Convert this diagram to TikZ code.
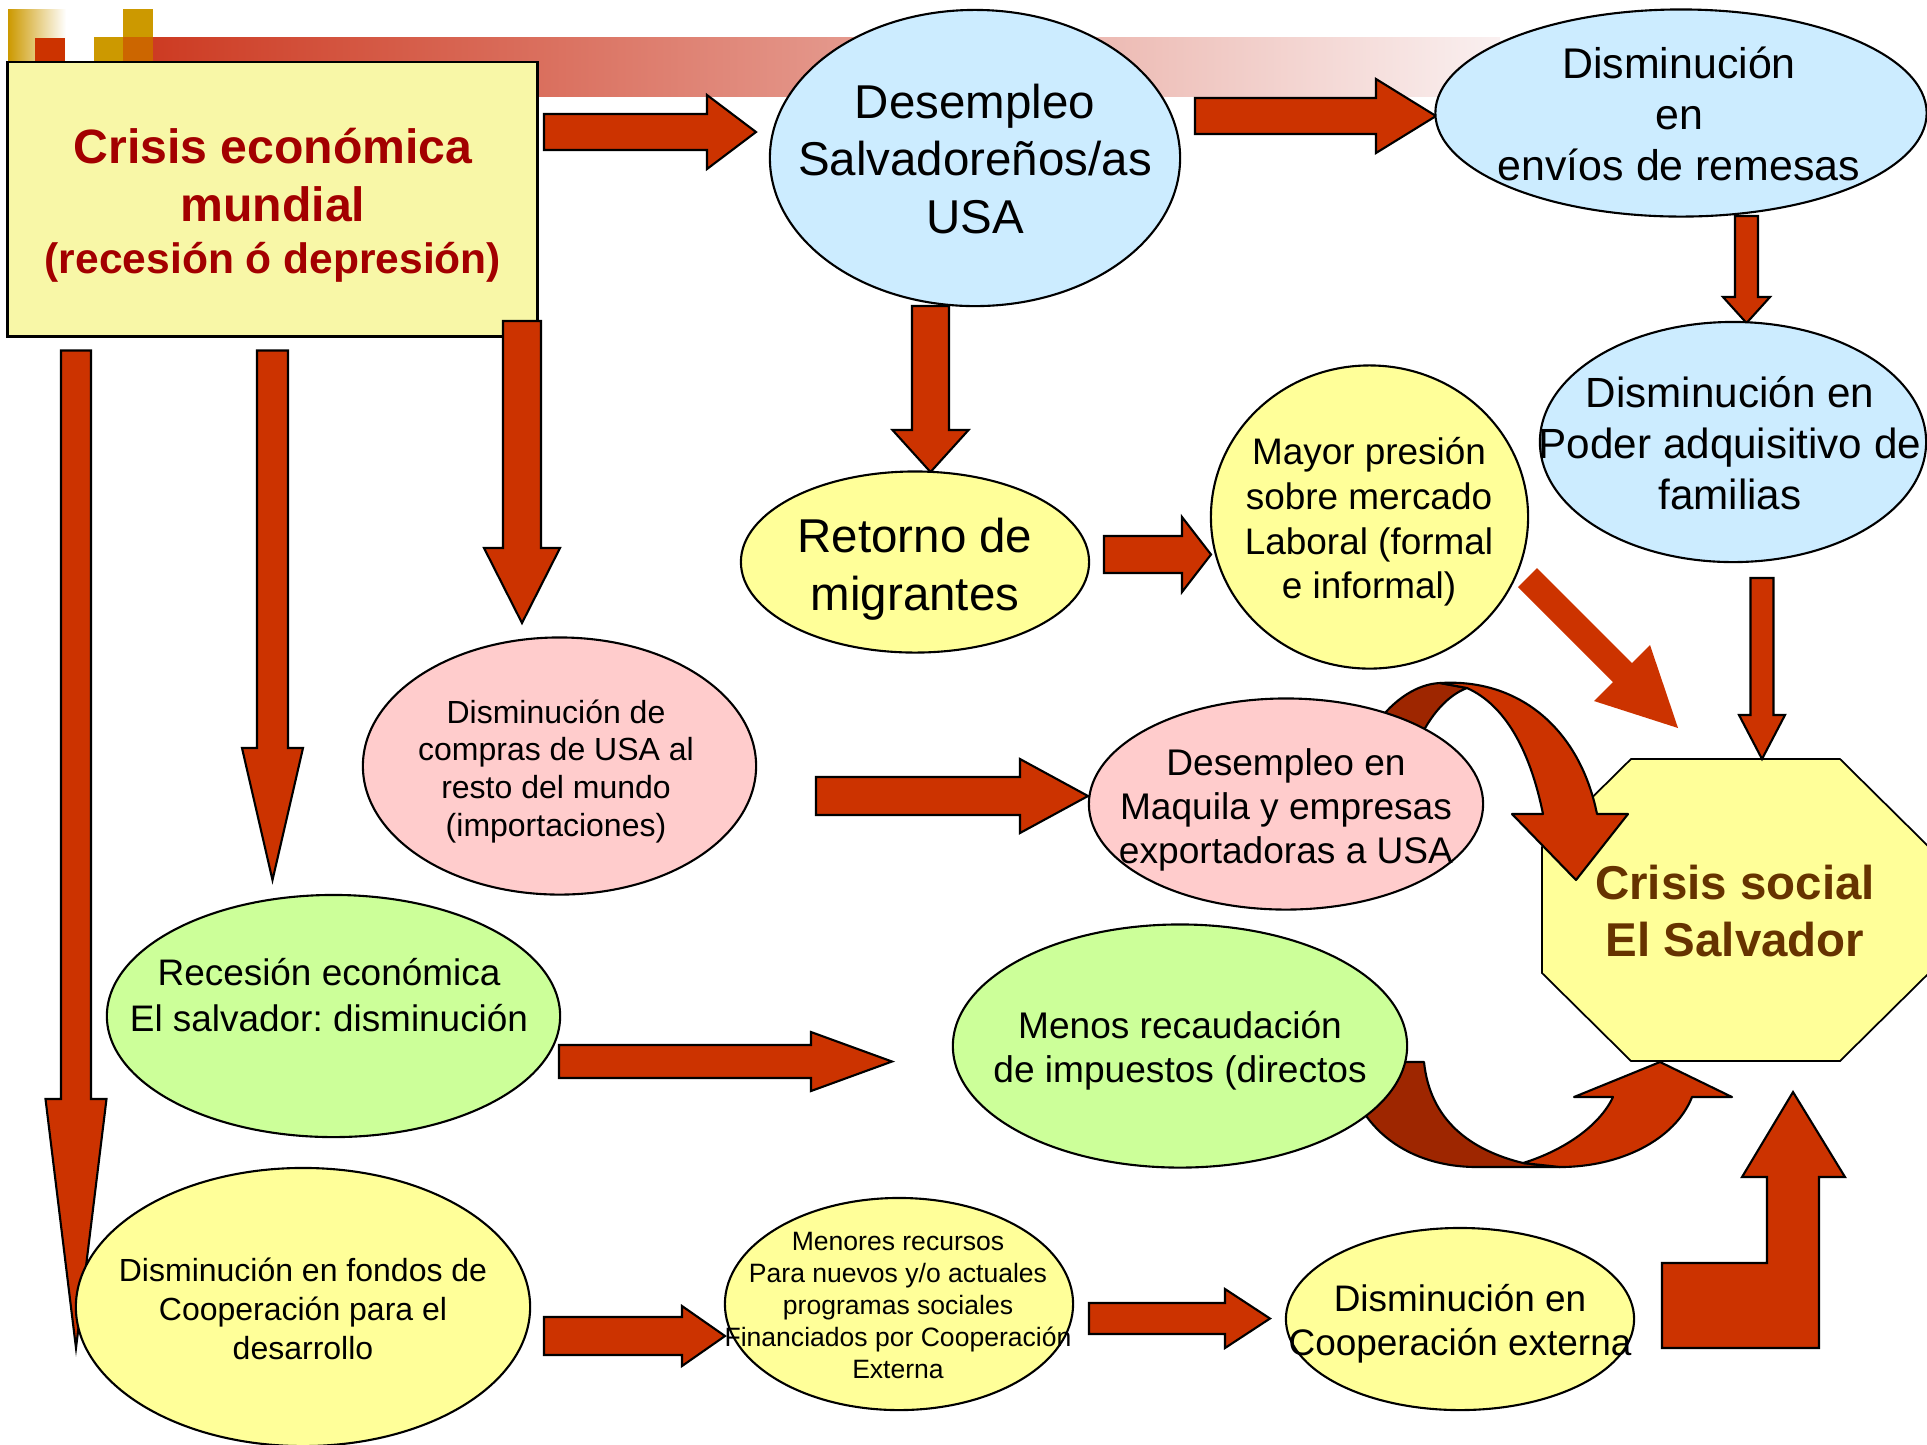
\documentclass[tikz,border=0pt]{standalone}
\usepackage{fontspec}
\setmainfont{Liberation Sans}
\frenchspacing
\usetikzlibrary{shapes.geometric}
\definecolor{arr}{HTML}{CC3300}
\definecolor{arrdark}{HTML}{9E2600}
\definecolor{cblue}{HTML}{CCECFF}
\definecolor{cyel}{HTML}{FFFF99}
\definecolor{cpink}{HTML}{FFCCCC}
\definecolor{cgreen}{HTML}{CCFF99}
\definecolor{boxfill}{HTML}{F8F7A7}
\definecolor{titlered}{HTML}{A30000}
\definecolor{socialbrown}{HTML}{663300}
\definecolor{goldsq}{HTML}{CC9900}
\definecolor{orangeov}{HTML}{CC6600}
\definecolor{barred}{RGB}{204,55,30}
\definecolor{barend}{RGB}{250,240,240}
\tikzset{
  blockarrow/.style={fill=arr, draw=black, line width=0.6pt, line join=miter},
  curvearrow/.style={draw=black, line width=0.6pt, line join=round},
  oval/.style={ellipse, draw=black, line width=0.6pt, inner sep=0pt},
  txt/.style={align=center, inner sep=0pt, text=black},
}
\newcommand\ArrRight[6]{%
  \filldraw[blockarrow] (#1,#4-#5) -- (#2,#4-#5) -- (#2,#4-#6) -- (#3,#4) -- (#2,#4+#6) -- (#2,#4+#5) -- (#1,#4+#5) -- cycle;}
\newcommand\ArrDown[6]{%
  \filldraw[blockarrow] (#4-#5,#1) -- (#4-#5,#2) -- (#4-#6,#2) -- (#4,#3) -- (#4+#6,#2) -- (#4+#5,#2) -- (#4+#5,#1) -- cycle;}
\begin{document}
\begin{tikzpicture}[x=0.01cm, y=-0.01cm]
\useasboundingbox (0,0) rectangle (1927,1444);
\clip (0,0) rectangle (1927,1444);
% banner decoration
\shade[left color=goldsq, right color=white] (8,9) rectangle (66,62);
\fill[arr] (35,38) rectangle (65,62);
\fill[goldsq] (94,37) rectangle (123,62);
\shade[left color=barred, right color=barend] (123,37) rectangle (1500,96);
\fill[goldsq] (123,9) rectangle (153,37);
\fill[orangeov] (123,37) rectangle (153,62);
% main box
\node[draw=black, line width=0.8pt, fill=boxfill, minimum width=5.29cm, minimum height=2.74cm, inner sep=0pt] (box) at (272.5,199) {};
\node[txt, text=titlered, font=\bfseries\fontsize{13.7}{16.5}\selectfont] (boxt1) at (273,175) {Crisis económica\\mundial};
\node[txt, text=titlered, font=\bfseries\fontsize{12.1}{14.5}\selectfont] (boxt2) at (273,262) {(recesión ó depresión)};
% octagon
\filldraw[fill=cyel, draw=black, line width=0.5pt] (1631,759) -- (1840,759) -- (1929,847) -- (1929,973) -- (1840,1061) -- (1631,1061) -- (1542,973) -- (1542,847) -- cycle;
\coordinate (crisis) at (1735,911);
% straight block arrows
\ArrRight{544}{707}{756}{132}{18}{37}
\ArrRight{1195}{1376}{1436}{116}{18}{37}
\ArrDown{216}{297}{323}{1746.5}{11.5}{23.5}
\ArrDown{306}{430}{472}{930.5}{18.5}{38}
\ArrRight{1104}{1182}{1211}{554.5}{18.5}{37.5}
\fill[arr] (1518,587) -- (1537,568) -- (1632,663) -- (1650,645) -- (1678,728) -- (1594,701) -- (1613,682) -- cycle;
\ArrDown{578}{715}{759}{1762}{11.5}{23}
\ArrDown{321}{548}{623}{522}{19}{38}
\ArrDown{350.5}{748}{880}{272.5}{15.5}{30.5}
\ArrDown{350.5}{1099}{1348}{76}{15}{30.5}
\ArrRight{816}{1020}{1088}{796}{19}{37}
\ArrRight{559}{811}{892}{1061.5}{16.5}{29.5}
\ArrRight{544}{682}{725}{1336}{19}{30}
\ArrRight{1089}{1225}{1270}{1318.5}{15.5}{29.5}
\filldraw[blockarrow] (1662,1263) -- (1767,1263) -- (1767,1177) -- (1742,1177) -- (1793,1092) -- (1845,1177) -- (1819,1177) -- (1819,1348) -- (1662,1348) -- cycle;
% curved arrow over the top
\filldraw[curvearrow, fill=arrdark] (1375,725) .. controls (1395,698) and (1418,684) .. (1440,683) -- (1467,688) .. controls (1448,695) and (1430,715) .. (1418,742) -- cycle;
\filldraw[curvearrow, fill=arr] (1440,683) .. controls (1520,678) and (1580,730) .. (1597,814) -- (1628,814) -- (1576,880) -- (1512,814) -- (1543,814) .. controls (1530,750) and (1505,705) .. (1467,688) -- cycle;
% curved arrow underneath
\filldraw[curvearrow, fill=arrdark] (1345,1062) -- (1424,1062) .. controls (1430,1120) and (1470,1150) .. (1523,1163) -- (1560,1167) -- (1477,1167) .. controls (1410,1167) and (1355,1130) .. (1345,1062) -- cycle;
\filldraw[curvearrow, fill=arr] (1523,1163) .. controls (1565,1150) and (1600,1125) .. (1613,1097) -- (1574,1097) -- (1660,1062) -- (1732,1097) -- (1692,1097) .. controls (1675,1140) and (1620,1167) .. (1560,1167) -- cycle;
% ellipses
\node[oval, fill=cblue, minimum width=4.10cm, minimum height=2.96cm] (des) at (975,158) {};
\node[oval, fill=cblue, minimum width=4.91cm, minimum height=2.07cm] (rem) at (1681,113) {};
\node[oval, fill=cblue, minimum width=3.86cm, minimum height=2.40cm] (pod) at (1733,442) {};
\node[oval, fill=cyel, minimum width=3.48cm, minimum height=1.81cm] (ret) at (915,562) {};
\node[oval, fill=cyel, minimum width=3.17cm, minimum height=3.03cm] (may) at (1369.5,517) {};
\node[oval, fill=cpink, minimum width=3.93cm, minimum height=2.57cm] (com) at (559.5,766) {};
\node[oval, fill=cpink, minimum width=3.94cm, minimum height=2.11cm] (maq) at (1286,804) {};
\node[oval, fill=cgreen, minimum width=4.53cm, minimum height=2.42cm] (rec) at (333.5,1016) {};
\node[oval, fill=cgreen, minimum width=4.54cm, minimum height=2.43cm] (men) at (1180,1046) {};
\node[oval, fill=cyel, minimum width=4.54cm, minimum height=2.78cm] (fon) at (303,1307) {};
\node[oval, fill=cyel, minimum width=3.48cm, minimum height=2.12cm] (mre) at (899,1304) {};
\node[oval, fill=cyel, minimum width=3.48cm, minimum height=1.82cm] (coe) at (1460,1319) {};
% texts
\node[txt, font=\fontsize{13.5}{16.4}\selectfont] (dest) at (975,159) {Desempleo\\Salvadoreños/as\\USA};
\node[txt, font=\fontsize{12.2}{14.4}\selectfont] (remt) at (1679,114) {Disminución\\en\\envíos de remesas};
\node[txt, font=\fontsize{12}{14.5}\selectfont] (podt) at (1730,443) {Disminución en\\Poder adquisitivo de\\familias};
\node[txt, font=\fontsize{13.5}{16.5}\selectfont] (rett) at (915,569) {Retorno de\\migrantes};
\node[txt, font=\fontsize{10.5}{12.7}\selectfont] (mayt) at (1369,522) {Mayor presión\\sobre mercado\\Laboral (formal\\e informal)};
\node[txt, font=\fontsize{9.1}{10.8}\selectfont] (comt) at (556,771.5) {Disminución de\\compras de USA al\\resto del mundo\\(importaciones)};
\node[txt, font=\fontsize{10.55}{12.5}\selectfont] (maqt) at (1286,810) {Desempleo en\\Maquila y empresas\\exportadoras a USA};
\node[txt, font=\fontsize{10.5}{13}\selectfont] (rect) at (329,995) {Recesión económica\\El salvador: disminución};
\node[txt, font=\fontsize{10.55}{12.5}\selectfont] (ment) at (1180,1051) {Menos recaudación\\de impuestos (directos};
\node[txt, font=\fontsize{9.1}{11}\selectfont] (font) at (303,1309) {Disminución en fondos de\\Cooperación para el\\desarrollo};
\node[txt, font=\fontsize{7.55}{9.1}\selectfont] (mret) at (898,1305) {Menores recursos\\Para nuevos y/o actuales\\programas sociales\\Financiados por Cooperación\\Externa};
\node[txt, font=\fontsize{10.5}{12.5}\selectfont] (coet) at (1460,1324) {Disminución en\\Cooperación externa};
\node[txt, text=socialbrown, font=\bfseries\fontsize{13.5}{16.2}\selectfont] (crisist) at (crisis) {Crisis social\\El Salvador};
\end{tikzpicture}
\end{document}
